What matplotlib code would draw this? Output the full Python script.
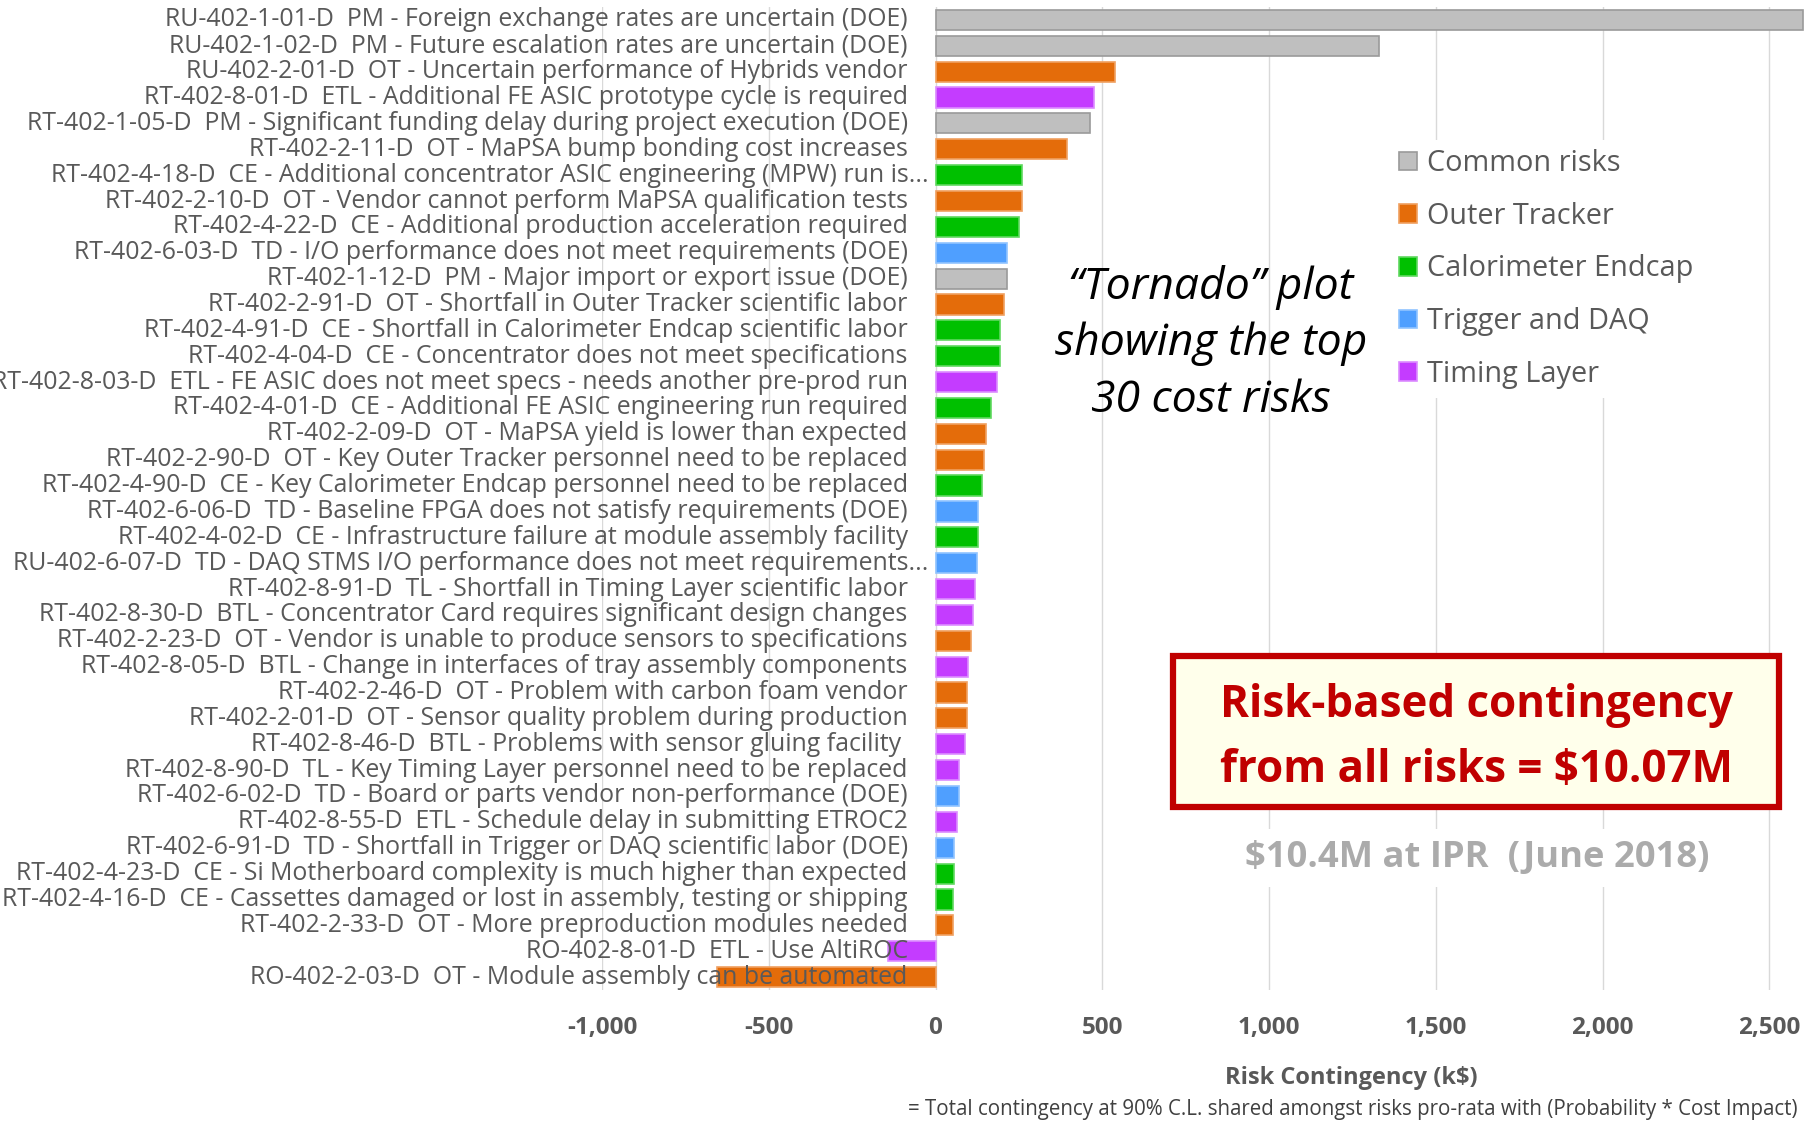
import matplotlib
matplotlib.use("Agg")
import matplotlib.pyplot as plt
from matplotlib.patches import Patch, Rectangle

plt.rcParams['font.family'] = ['Open Sans', 'Lato', 'DejaVu Sans']

# risk register entries, largest first (k$)
risk_labels = [
    "RU-402-1-01-D  PM - Foreign exchange rates are uncertain (DOE)",
    "RU-402-1-02-D  PM - Future escalation rates are uncertain (DOE)",
    "RU-402-2-01-D  OT - Uncertain performance of Hybrids vendor",
    "RT-402-8-01-D  ETL - Additional FE ASIC prototype cycle is required",
    "RT-402-1-05-D  PM - Significant funding delay during project execution (DOE)",
    "RT-402-2-11-D  OT - MaPSA bump bonding cost increases",
    "RT-402-4-18-D  CE - Additional concentrator ASIC engineering (MPW) run is...",
    "RT-402-2-10-D  OT - Vendor cannot perform MaPSA qualification tests",
    "RT-402-4-22-D  CE - Additional production acceleration required",
    "RT-402-6-03-D  TD - I/O performance does not meet requirements (DOE)",
    "RT-402-1-12-D  PM - Major import or export issue (DOE)",
    "RT-402-2-91-D  OT - Shortfall in Outer Tracker scientific labor",
    "RT-402-4-91-D  CE - Shortfall in Calorimeter Endcap scientific labor",
    "RT-402-4-04-D  CE - Concentrator does not meet specifications",
    "RT-402-8-03-D  ETL - FE ASIC does not meet specs - needs another pre-prod run",
    "RT-402-4-01-D  CE - Additional FE ASIC engineering run required",
    "RT-402-2-09-D  OT - MaPSA yield is lower than expected",
    "RT-402-2-90-D  OT - Key Outer Tracker personnel need to be replaced",
    "RT-402-4-90-D  CE - Key Calorimeter Endcap personnel need to be replaced",
    "RT-402-6-06-D  TD - Baseline FPGA does not satisfy requirements (DOE)",
    "RT-402-4-02-D  CE - Infrastructure failure at module assembly facility",
    "RU-402-6-07-D  TD - DAQ STMS I/O performance does not meet requirements...",
    "RT-402-8-91-D  TL - Shortfall in Timing Layer scientific labor",
    "RT-402-8-30-D  BTL - Concentrator Card requires significant design changes",
    "RT-402-2-23-D  OT - Vendor is unable to produce sensors to specifications",
    "RT-402-8-05-D  BTL - Change in interfaces of tray assembly components",
    "RT-402-2-46-D  OT - Problem with carbon foam vendor",
    "RT-402-2-01-D  OT - Sensor quality problem during production",
    "RT-402-8-46-D  BTL - Problems with sensor gluing facility ",
    "RT-402-8-90-D  TL - Key Timing Layer personnel need to be replaced",
    "RT-402-6-02-D  TD - Board or parts vendor non-performance (DOE)",
    "RT-402-8-55-D  ETL - Schedule delay in submitting ETROC2",
    "RT-402-6-91-D  TD - Shortfall in Trigger or DAQ scientific labor (DOE)",
    "RT-402-4-23-D  CE - Si Motherboard complexity is much higher than expected",
    "RT-402-4-16-D  CE - Cassettes damaged or lost in assembly, testing or shipping",
    "RT-402-2-33-D  OT - More preproduction modules needed",
    "RO-402-8-01-D  ETL - Use AltiROC",
    "RO-402-2-03-D  OT - Module assembly can be automated",
]
risk_group = [
    "PM", "PM", "OT", "TL", "PM", "OT", "CE", "OT", "CE", "TD",
    "PM", "OT", "CE", "CE", "TL", "CE", "OT", "OT", "CE", "TD",
    "CE", "TD", "TL", "TL", "OT", "TL", "OT", "OT", "TL", "TL",
    "TD", "TL", "TD", "CE", "CE", "OT", "TL", "OT",
]
contingency = [
    2600, 1330, 538, 474, 462, 395, 260, 260, 251, 214,
    214, 206, 192, 192, 183, 165, 151, 145, 139, 127,
    127, 124, 119, 112, 107, 97, 93, 93, 88, 69,
    69, 63, 56, 56, 53, 53, -142, -655,
]

group_keys = ["PM", "OT", "CE", "TD", "TL"]
group_names = ["Common risks", "Outer Tracker", "Calorimeter Endcap",
               "Trigger and DAQ", "Timing Layer"]
group_colors = {"PM": "#BFBFBF", "OT": "#E46C0A", "CE": "#00C000",
                "TD": "#4F9FFF", "TL": "#C43CFF"}
group_edges = {"PM": "#9A9A9A", "OT": "#F0A060", "CE": "#60D860",
               "TD": "#90C4FF", "TL": "#DC8CFF"}

xticks = [-1000, -500, 0, 500, 1000, 1500, 2000, 2500]

fig = plt.figure(figsize=(18.19, 11.23), dpi=100)
ax = fig.add_axes([602/1819, 1-990/1123, (1806-602)/1819, (990-7)/1123])

ypos = list(range(len(risk_labels)))
ax.barh(ypos, contingency, height=0.78,
        color=[group_colors[g] for g in risk_group],
        edgecolor=[group_edges[g] for g in risk_group], linewidth=1.2, zorder=2)

ax.set_xlim(-1000, 2610)
ax.set_ylim(len(risk_labels)-0.5, -0.5)
ax.set_xticks(xticks)
ax.set_xticklabels([f"{v:,}" for v in xticks], fontsize=17.5, fontweight='bold', color='#595959')
ax.tick_params(axis='x', length=0, pad=19)
ax.set_yticks([])
ax.grid(axis='x', color='#D9D9D9', linewidth=1.0, zorder=0)
for s in ax.spines.values():
    s.set_visible(False)

for i, lab in enumerate(risk_labels):
    dx = 15 if lab.endswith("...") else 0
    ax.annotate(lab, xy=(0, i), xytext=(-20 + dx, 0), textcoords='offset points',
                ha='right', va='center', fontsize=17.9, color='#595959',
                annotation_clip=False, zorder=5)

handles = [Patch(facecolor=group_colors[k], edgecolor=group_edges[k], linewidth=1.2)
           for k in group_keys]
fig.legend(handles, group_names, loc='upper left', bbox_to_anchor=(1376/1819, 1-126/1123),
           frameon=True, facecolor='white', edgecolor='none', framealpha=1,
           fontsize=20.8, labelcolor='#595959', handlelength=0.62, handleheight=0.62,
           handletextpad=0.33, labelspacing=0.82, borderpad=0.3)

fig.text(1211/1819, 1-344/1123, "\u201cTornado\u201d plot\nshowing the top\n30 cost risks",
         ha='center', va='center', fontsize=32, style='italic', color='black',
         linespacing=1.37)

fig.add_artist(Rectangle((1173/1819, 1-807/1123), (1779-1173)/1819, (807-656)/1123,
                         transform=fig.transFigure, facecolor='#FFFFEB',
                         edgecolor='#C00000', linewidth=4.5, zorder=3))
fig.text(1476/1819, 1-738/1123, "Risk-based contingency\nfrom all risks = $10.07M",
         ha='center', va='center', fontsize=31.6, fontweight='bold', color='#C00000',
         linespacing=1.56, zorder=4)

fig.text(1477/1819, 1-858/1123, "$10.4M at IPR  (June 2018)", ha='center', va='center',
         fontsize=26.2, fontweight='bold', color='#ABABAB',
         bbox=dict(boxstyle='square,pad=0.3', facecolor='white', edgecolor='none'))

fig.text(1351/1819, 1-1078/1123, "Risk Contingency (k$)", ha='center', va='center',
         fontsize=17, fontweight='bold', color='#595959')
fig.text(1797/1819, 1-1110/1123,
         "= Total contingency at 90% C.L. shared amongst risks pro-rata with (Probability * Cost Impact)",
         ha='right', va='center', fontsize=14.8, color='#404040')

fig.savefig("out.png", dpi=100)
